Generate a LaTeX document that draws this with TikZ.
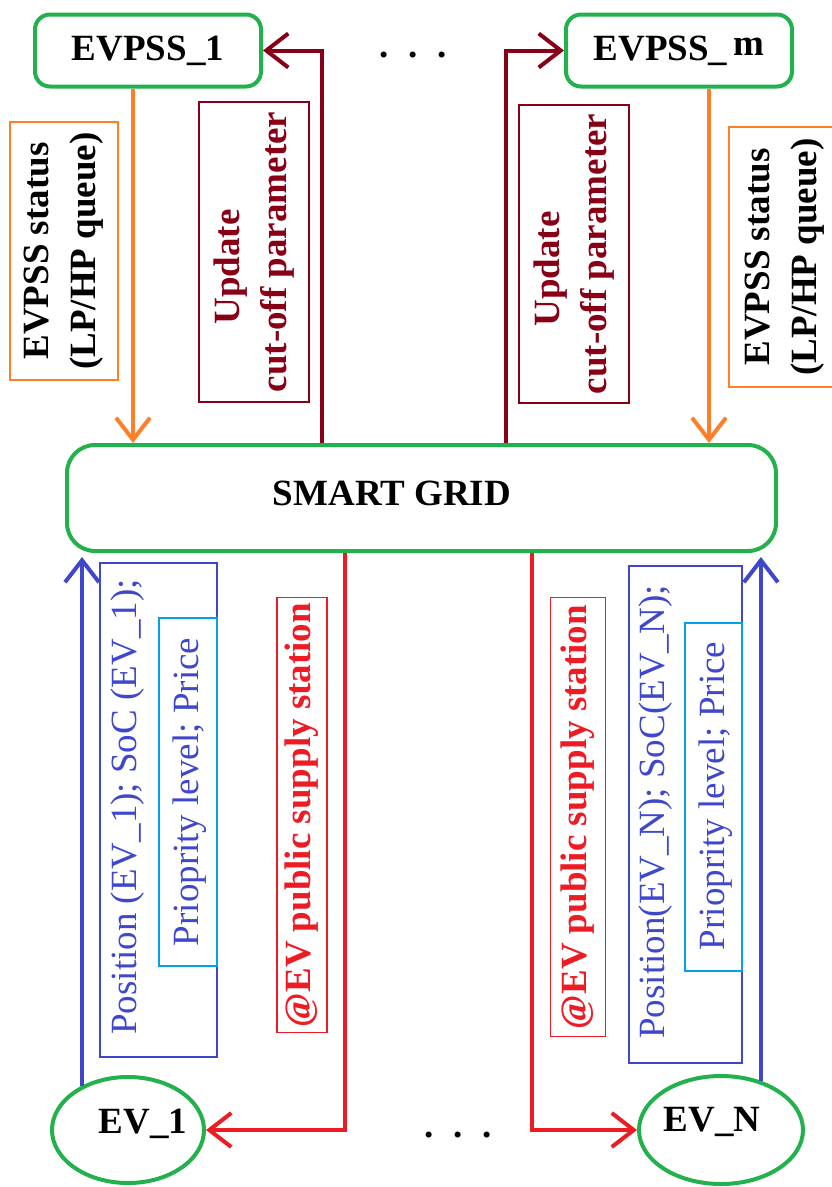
\documentclass[tikz,border=0pt]{standalone}
\usepackage{fontspec}
\setmainfont{Liberation Serif}
\usetikzlibrary{arrows.meta,shapes.geometric}
\definecolor{pgreen}{HTML}{22B14C}
\definecolor{porange}{HTML}{FF7F27}
\definecolor{pdred}{HTML}{880015}
\definecolor{pred}{HTML}{ED1C24}
\definecolor{pblue}{HTML}{3F48CC}
\definecolor{plblue}{HTML}{00A2E8}
\tikzset{
  bigfont/.style={font=\fontsize{37}{47}\selectfont\bfseries},
  regfont/.style={font=\fontsize{37}{47}\selectfont},
  stationbox/.style={draw=pgreen, line width=4pt, rounded corners=15pt, minimum width=226pt, minimum height=72pt, bigfont, inner sep=0pt},
  evnode/.style={draw=pgreen, line width=4pt, ellipse, inner sep=0pt},
  gridbox/.style={draw=pgreen, line width=4pt, rounded corners=28pt, minimum width=709pt, minimum height=106pt, inner sep=0pt},
  tagbox/.style={draw, line width=1.3pt, rotate=90, align=center, inner sep=0pt, bigfont},
  emptybox/.style={draw, line width=1.3pt, rotate=90, inner sep=0pt},
  vtext/.style={rotate=90, inner sep=0pt, align=center},
  conn/.style={line width=4pt, -{Straight Barb[length=22pt,width=34pt]}},
}
\begin{document}
\begin{tikzpicture}[x=1pt,y=-1pt]
\useasboundingbox (0,0) rectangle (832,1187);

% stations
\node[stationbox] (s1) at (148,50.5) {EVPSS\_1};
\node[stationbox] (sm) at (679,50.5) {EVPSS\_\,\raisebox{5pt}{m}};
\node[bigfont, anchor=base] (topdots) at (413,57) {.\hspace{20pt}.\hspace{20pt}.};

% smart grid
\node[gridbox] (grid) at (421.5,498) {};
\node[bigfont] (gridlabel) at (392,493) {SMART GRID};

% EVs
\node[evnode, minimum width=152pt, minimum height=106pt] (ev1) at (128,1130) {};
\node[bigfont] (ev1label) at (143,1124) {EV\_1};
\node[evnode, minimum width=164pt, minimum height=108pt] (evN) at (721,1130) {};
\node[bigfont] (evNlabel) at (712,1122) {EV\_N};
\node[bigfont, anchor=base] (botdots) at (458,1137) {.\hspace{20pt}.\hspace{20pt}.};

% label boxes top
\node[tagbox, draw=porange, text=black, minimum width=258pt, minimum height=108pt] (ot1) at (64,251) {EVPSS status\\(LP/HP queue)};
\node[tagbox, draw=porange, text=black, minimum width=260pt, minimum height=112pt] (ot2) at (785,257) {EVPSS status\\(LP/HP queue)};
\node[tagbox, draw=pdred, text=pdred, minimum width=300pt, minimum height=110pt] (dt1) at (254,252) {Update\hspace*{30pt}\\cut-off parameter};
\node[tagbox, draw=pdred, text=pdred, minimum width=298pt, minimum height=110pt] (dt2) at (574,254) {Update\hspace*{30pt}\\cut-off parameter};

% label boxes bottom
\node[tagbox, draw=pred, text=pred, minimum width=435pt, minimum height=50pt] (rt1) at (302,815) {@EV public supply station};
\node[tagbox, draw=pred, text=pred, minimum width=439pt, minimum height=55pt] (rt2) at (578,817) {@EV public supply station};

\node[emptybox, draw=pblue, minimum width=494pt, minimum height=117pt] (bb1) at (158.5,810) {};
\node[vtext, regfont, text=pblue] (bt1) at (128,807) {Position (EV\_1); SoC (EV\_1);};
\node[emptybox, draw=plblue, minimum width=348pt, minimum height=58pt] (lb1) at (188,792) {};
\node[vtext, regfont, text=pblue] (lt1) at (190,792) {Prioprity level; Price};

\node[emptybox, draw=pblue, minimum width=497pt, minimum height=113pt] (bb2) at (685.5,814.5) {};
\node[vtext, regfont, text=pblue] (bt2) at (656,812) {Position(EV\_N); SoC(EV\_N);};
\node[emptybox, draw=plblue, minimum width=348pt, minimum height=57pt] (lb2) at (713.5,797) {};
\node[vtext, regfont, text=pblue] (lt2) at (716,796) {Prioprity level; Price};

% connector columns
\coordinate (o1) at (133,0);
\coordinate (o2) at (709,0);
\coordinate (d1) at (322,0);
\coordinate (d2) at (506,0);
\coordinate (r1) at (345,0);
\coordinate (r2) at (532,0);

\draw[conn, porange] (s1.south -| o1) -- (grid.north -| o1);
\draw[conn, porange] (sm.south -| o2) -- (grid.north -| o2);
\draw[conn, pdred] (grid.north -| d1) -- (d1 |- s1.east) -- (s1.east);
\draw[conn, pdred] (grid.north -| d2) -- (d2 |- sm.west) -- (sm.west);
\draw[conn, pblue, shorten >=4pt] (ev1.136) -- (ev1.136 |- grid.south);
\draw[conn, pblue, shorten >=4pt] (evN.51) -- (evN.51 |- grid.south);
\draw[conn, pred] (grid.south -| r1) -- (r1 |- ev1.east) -- (ev1.east);
\draw[conn, pred] (grid.south -| r2) -- (r2 |- evN.west) -- (evN.west);
\end{tikzpicture}
\end{document}
